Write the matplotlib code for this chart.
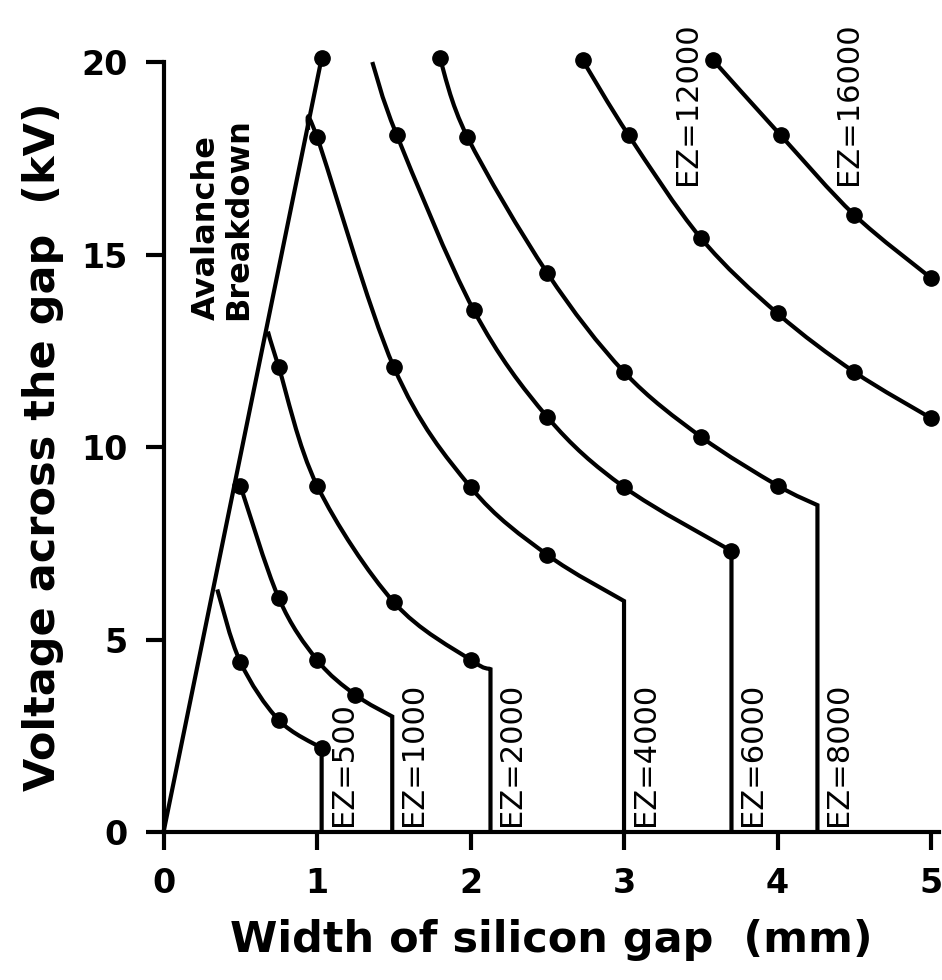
import numpy as np
import matplotlib
matplotlib.use("Agg")
import matplotlib.pyplot as plt
from matplotlib.path import Path
from matplotlib.patches import PathPatch

# avalanche breakdown line
aval_x = [0.0, 1.03]
aval_y = [0.0, 20.1]

# constant-EZ curves: points (first point = start of curve)
ez500_x = [0.35, 0.5, 0.75, 1.03]
ez500_y = [6.3, 4.42, 2.91, 2.18]
ez1000_x = [0.5, 0.75, 1.0, 1.25, 1.49]
ez1000_y = [9.0, 6.08, 4.47, 3.56, 3.0]
ez2000_x = [0.68, 0.75, 1.0, 1.5, 2.0, 2.13]
ez2000_y = [13.0, 12.08, 9.0, 5.97, 4.47, 4.23]
ez4000_x = [0.94, 1.0, 1.5, 2.0, 2.5, 3.0]
ez4000_y = [18.3, 18.05, 12.08, 8.96, 7.2, 6.0]
ez6000_x = [1.36, 1.52, 2.02, 2.5, 3.0, 3.7]
ez6000_y = [20.0, 18.1, 13.56, 10.78, 8.96, 7.3]
ez8000_x = [1.8, 1.98, 2.5, 3.0, 3.5, 4.0, 4.26]
ez8000_y = [20.1, 18.05, 14.52, 11.95, 10.27, 9.0, 8.49]
ez12000_x = [2.73, 3.03, 3.5, 4.0, 4.5, 5.0]
ez12000_y = [20.05, 18.1, 15.43, 13.47, 11.95, 10.75]
ez16000_x = [3.58, 4.02, 4.5, 5.0]
ez16000_y = [20.05, 18.1, 16.03, 14.39]

# which points carry a dot
ez500_dots = [1, 2, 3]
ez1000_dots = [0, 1, 2, 3]
ez2000_dots = [1, 2, 3, 4]
ez4000_dots = [1, 2, 3, 4]
ez6000_dots = [1, 2, 3, 4, 5]
ez8000_dots = [0, 1, 2, 3, 4, 5]
ez12000_dots = [0, 1, 2, 3, 4, 5]
ez16000_dots = [0, 1, 2, 3]

ez_labels = ["EZ=500", "EZ=1000", "EZ=2000", "EZ=4000", "EZ=6000", "EZ=8000"]
top_labels = ["EZ=12000", "EZ=16000"]
top_label_x = [3.32, 4.37]
top_label_y = 16.8

xticks = [0, 1, 2, 3, 4, 5]
yticks = [0, 5, 10, 15, 20]


def smooth_path(xs, ys, drop=False):
    # catmull-rom through the points, drawn by matplotlib as cubic beziers
    pts = np.column_stack([xs, ys]).astype(float)
    n = len(pts)
    verts = [pts[0]]
    codes = [Path.MOVETO]
    for i in range(n - 1):
        p0 = pts[i - 1] if i > 0 else pts[i]
        p1 = pts[i]
        p2 = pts[i + 1]
        p3 = pts[i + 2] if i + 2 < n else pts[i + 1]
        verts += [p1 + (p2 - p0) / 6, p2 - (p3 - p1) / 6, p2]
        codes += [Path.CURVE4] * 3
    if drop:
        verts.append([xs[-1], 0.0])
        codes.append(Path.LINETO)
    return Path(verts, codes)


plt.rcParams["font.weight"] = "bold"
plt.rcParams["axes.labelweight"] = "bold"

fig = plt.figure(figsize=(9.42, 9.8), dpi=100)
ax = fig.add_axes([0.1736, 0.151, 0.8229, 0.7857])

LW = 3.0
ax.plot(aval_x, aval_y, color="black", lw=LW, clip_on=False, solid_capstyle="butt")
ax.plot(aval_x[-1:], aval_y[-1:], "o", color="black", ms=11, clip_on=False)

curves = [
    (ez500_x, ez500_y, ez500_dots, True),
    (ez1000_x, ez1000_y, ez1000_dots, True),
    (ez2000_x, ez2000_y, ez2000_dots, True),
    (ez4000_x, ez4000_y, ez4000_dots, True),
    (ez6000_x, ez6000_y, ez6000_dots, True),
    (ez8000_x, ez8000_y, ez8000_dots, True),
    (ez12000_x, ez12000_y, ez12000_dots, False),
    (ez16000_x, ez16000_y, ez16000_dots, False),
]
for xs, ys, dots, drop in curves:
    patch = PathPatch(smooth_path(xs, ys, drop), facecolor="none", edgecolor="black",
                      lw=LW, clip_on=False, joinstyle="miter", capstyle="butt")
    ax.add_patch(patch)
    ax.plot([xs[i] for i in dots], [ys[i] for i in dots], "o", color="black",
            ms=11, clip_on=False)

# labels next to the vertical drops
for (xs, ys, dots, drop), lab in zip(curves[:6], ez_labels):
    ax.annotate(lab, (xs[-1], 0), xytext=(5, 4), textcoords="offset points",
                rotation=90, ha="left", va="bottom", fontsize=22, fontweight="normal")

for x, lab in zip(top_label_x, top_labels):
    ax.text(x, top_label_y, lab, rotation=90, ha="left", va="bottom", fontsize=22,
            fontweight="normal")

ax.text(0.18, 13.3, "Avalanche\nBreakdown", rotation=90, ha="left", va="bottom",
        multialignment="left", linespacing=1.05, fontsize=23)

ax.set_xlim(0, 5.05)
ax.set_ylim(0, 20)
ax.set_xticks(xticks)
ax.set_yticks(yticks)
for s in ["top", "right"]:
    ax.spines[s].set_visible(False)
for s in ["left", "bottom"]:
    ax.spines[s].set_linewidth(3.0)
ax.tick_params(axis="both", direction="out", length=13, width=3.0, labelsize=24)
ax.tick_params(axis="x", pad=12)
ax.tick_params(axis="y", pad=13)

ax.set_xlabel("Width of silicon gap  (mm)", fontsize=31, labelpad=14)
ax.set_ylabel("Voltage across the gap  (kV)", fontsize=31, labelpad=12)

fig.savefig("out.png", dpi=100)
